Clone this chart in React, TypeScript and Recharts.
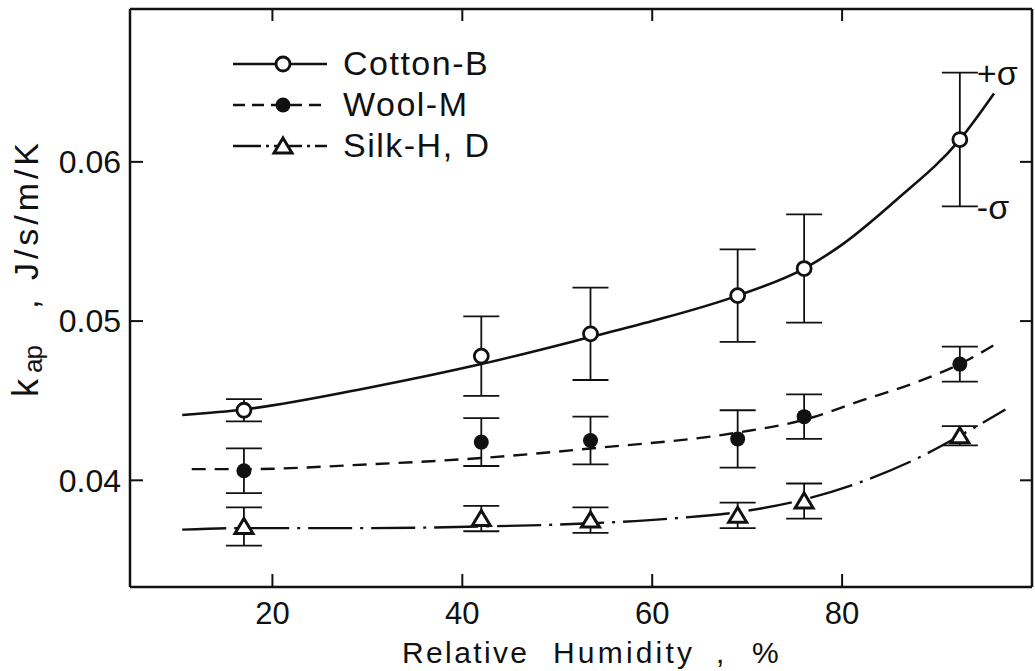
import { ComposedChart, Line, Scatter, XAxis, YAxis, ErrorBar, Legend, ReferenceDot } from 'recharts';

const FONT = '"Liberation Sans", Arial, sans-serif';
const INK = '#111';

// measured points: relative humidity (%), k_ap (J/s/m/K) and its sigma
const humidity = [17, 42, 53.5, 69, 76, 92.4];
const cottonK = [0.0444, 0.0478, 0.0492, 0.0516, 0.0533, 0.0614];
const cottonSd = [0.0007, 0.0025, 0.0029, 0.0029, 0.0034, 0.0042];
const woolK = [0.0406, 0.0424, 0.0425, 0.0426, 0.044, 0.0473];
const woolSd = [0.0014, 0.0015, 0.0015, 0.0018, 0.0014, 0.0011];
const silkK = [0.0371, 0.0376, 0.0375, 0.0378, 0.0387, 0.0428];
const silkSd = [0.0012, 0.0008, 0.0008, 0.0008, 0.0011, 0.0006];

// fitted curves
const cottonFitX = [10.5, 17, 30, 42, 53.5, 60, 69, 76, 80, 85.7, 92.4, 96];
const cottonFitY = [0.0441, 0.04445, 0.0458, 0.0473, 0.049, 0.05, 0.0516, 0.0533, 0.0548, 0.0576, 0.0614, 0.0643];
const woolFitX = [11.5, 17, 30, 42, 53.5, 69, 76, 82, 88, 92.4, 96.6];
const woolFitY = [0.0407, 0.0407, 0.041, 0.0414, 0.042, 0.043, 0.0438, 0.045, 0.0462, 0.0473, 0.0487];
const silkFitX = [10.5, 17, 30, 42, 53.5, 62, 69, 76, 82, 88, 92.4, 97.2];
const silkFitY = [0.0369, 0.037, 0.037, 0.0371, 0.0373, 0.0376, 0.038, 0.0388, 0.0399, 0.0414, 0.0428, 0.04445];

const xTicks = [20, 40, 60, 80];
const yTicks = [0.04, 0.05, 0.06];
const xDomain: [number, number] = [5, 100];
const yDomain: [number, number] = [0.0333, 0.0696];
const seriesNames = ['Cotton-B', 'Wool-M', 'Silk-H, D'];

const MARGIN_TOP = 9;
const X_TICK_GAP = 15;

const points = (ys: number[], sds: number[]) => humidity.map((x, i) => ({ x, y: ys[i], err: sds[i] }));
const curve = (xs: number[], ys: number[]) => xs.map((x, i) => ({ x, y: ys[i] }));

const OpenCircle = (p: any) => <circle cx={p.cx} cy={p.cy} r={7} fill="#fff" stroke={INK} strokeWidth={2.8} />;
const FilledDot = (p: any) => <circle cx={p.cx} cy={p.cy} r={7.5} fill={INK} />;
const Triangle = (p: any) => (
  <path
    d={`M${p.cx},${p.cy - 8} L${p.cx + 9},${p.cy + 7} L${p.cx - 9},${p.cy + 7} Z`}
    fill="#fff"
    stroke={INK}
    strokeWidth={3}
  />
);

// x tick: label plus inward marks on the bottom and top frame lines
const XTick = (p: any) => {
  const axisY = p.y - X_TICK_GAP;
  return (
    <g>
      <line x1={p.x} x2={p.x} y1={axisY} y2={axisY - 13} stroke={INK} strokeWidth={2} />
      <line x1={p.x} x2={p.x} y1={MARGIN_TOP} y2={MARGIN_TOP + 12} stroke={INK} strokeWidth={2} />
      <text x={p.x} y={p.y} dy="0.71em" textAnchor="middle" fill={INK} fontSize={31} fontFamily={FONT}>
        {p.payload.value}
      </text>
    </g>
  );
};

const legendDash = [undefined, '12 7', '28 5 3 5'];
const legendMarker = (i: number) => {
  const p = { cx: 54, cy: 15 };
  if (i === 0) return <OpenCircle {...p} />;
  if (i === 1) return <FilledDot {...p} />;
  return <Triangle {...p} />;
};

const renderLegend = () => (
  <div style={{ fontFamily: FONT, color: INK }}>
    {seriesNames.map((name, i) => (
      <div key={name} style={{ display: 'flex', alignItems: 'center', height: 41 }}>
        <svg width={104} height={30}>
          <line x1={4} y1={15} x2={98} y2={15} stroke={INK} strokeWidth={2.5} strokeDasharray={legendDash[i]} />
          {legendMarker(i)}
        </svg>
        <span style={{ marginLeft: 10, fontSize: 34, letterSpacing: 1.5, lineHeight: '41px' }}>{name}</span>
      </div>
    ))}
  </div>
);

const XTitle = () => (
  <g fill={INK} fontFamily={FONT} fontSize={30}>
    <text x={402} y={663} textLength={125}>Relative</text>
    <text x={553} y={663} textLength={139}>Humidity</text>
    <text x={716} y={663}>,</text>
    <text x={752} y={663} textLength={27}>%</text>
  </g>
);

const YTitle = () => (
  <g fill={INK} fontFamily={FONT} transform="translate(38,397) rotate(-90)">
    <text x={0} y={0} fontSize={36}>k</text>
    <text x={24} y={4} fontSize={26} textLength={28}>ap</text>
    <text x={88} y={0} fontSize={34}>,</text>
    <text x={117} y={0} fontSize={34} textLength={137}>J/s/m/K</text>
  </g>
);

const frame = { stroke: INK, strokeWidth: 2.5 };
const tickStroke = { stroke: INK, strokeWidth: 2 };
const blank = () => '';

export default function App() {
  return (
    <div style={{ position: 'absolute', left: 0, top: 0, width: 1035, height: 671, background: '#fff' }}>
      <ComposedChart width={1035} height={671} margin={{ top: MARGIN_TOP, right: 3, bottom: 0, left: 0 }}>
        <XAxis
          type="number"
          dataKey="x"
          domain={xDomain}
          allowDataOverflow
          ticks={xTicks}
          interval={0}
          height={84}
          tickLine={false}
          tickSize={0}
          tickMargin={X_TICK_GAP}
          tick={XTick}
          axisLine={frame}
          label={{ content: () => <XTitle /> }}
        />
        <XAxis xAxisId="top" orientation="top" mirror type="number" domain={xDomain} allowDataOverflow ticks={xTicks} height={1} tickLine={false} tickFormatter={blank} axisLine={frame} />
        <YAxis
          type="number"
          dataKey="y"
          domain={yDomain}
          allowDataOverflow
          ticks={yTicks}
          width={130}
          tickLine={false}
          tickMargin={3}
          tick={{ fill: INK, fontSize: 32, fontFamily: FONT }}
          tickFormatter={(v: number) => v.toFixed(2)}
          axisLine={frame}
          label={{ content: () => <YTitle /> }}
        />
        {/* inward tick marks on the left and right frame lines */}
        <YAxis yAxisId="lt" orientation="left" mirror type="number" domain={yDomain} allowDataOverflow ticks={yTicks} width={1} tickSize={13} tickFormatter={blank} axisLine={false} tickLine={tickStroke} />
        <YAxis yAxisId="right" orientation="right" mirror type="number" domain={yDomain} allowDataOverflow ticks={yTicks} width={1} tickSize={12} tickFormatter={blank} axisLine={frame} tickLine={tickStroke} />

        <Line data={curve(cottonFitX, cottonFitY)} dataKey="y" type="monotone" stroke={INK} strokeWidth={2.6} dot={false} activeDot={false} legendType="none" isAnimationActive={false} />
        <Line data={curve(woolFitX, woolFitY)} dataKey="y" type="monotone" stroke={INK} strokeWidth={2.4} strokeDasharray="14 9" dot={false} activeDot={false} legendType="none" isAnimationActive={false} />
        <Line data={curve(silkFitX, silkFitY)} dataKey="y" type="monotone" stroke={INK} strokeWidth={2.4} strokeDasharray="44 8 3 8" dot={false} activeDot={false} legendType="none" isAnimationActive={false} />

        <Scatter name={seriesNames[0]} data={points(cottonK, cottonSd)} shape={OpenCircle} isAnimationActive={false}>
          <ErrorBar dataKey="err" direction="y" width={18} stroke={INK} strokeWidth={1.8} isAnimationActive={false} />
        </Scatter>
        <Scatter name={seriesNames[1]} data={points(woolK, woolSd)} shape={FilledDot} isAnimationActive={false}>
          <ErrorBar dataKey="err" direction="y" width={18} stroke={INK} strokeWidth={1.8} isAnimationActive={false} />
        </Scatter>
        <Scatter name={seriesNames[2]} data={points(silkK, silkSd)} shape={Triangle} isAnimationActive={false}>
          <ErrorBar dataKey="err" direction="y" width={18} stroke={INK} strokeWidth={1.8} isAnimationActive={false} />
        </Scatter>

        <ReferenceDot
          x={humidity[5]}
          y={cottonK[5] + cottonSd[5]}
          r={0}
          stroke="none"
          label={{ value: '+σ', position: 'right', offset: 17, fill: INK, fontSize: 34, fontFamily: FONT }}
        />
        <ReferenceDot
          x={humidity[5]}
          y={cottonK[5] - cottonSd[5]}
          r={0}
          stroke="none"
          label={{ value: '-σ', position: 'right', offset: 17, fill: INK, fontSize: 34, fontFamily: FONT }}
        />

        <Legend
          layout="vertical"
          align="center"
          verticalAlign="middle"
          content={renderLegend}
          wrapperStyle={{ left: 229, top: 43, width: 330 }}
        />
      </ComposedChart>
    </div>
  );
}
